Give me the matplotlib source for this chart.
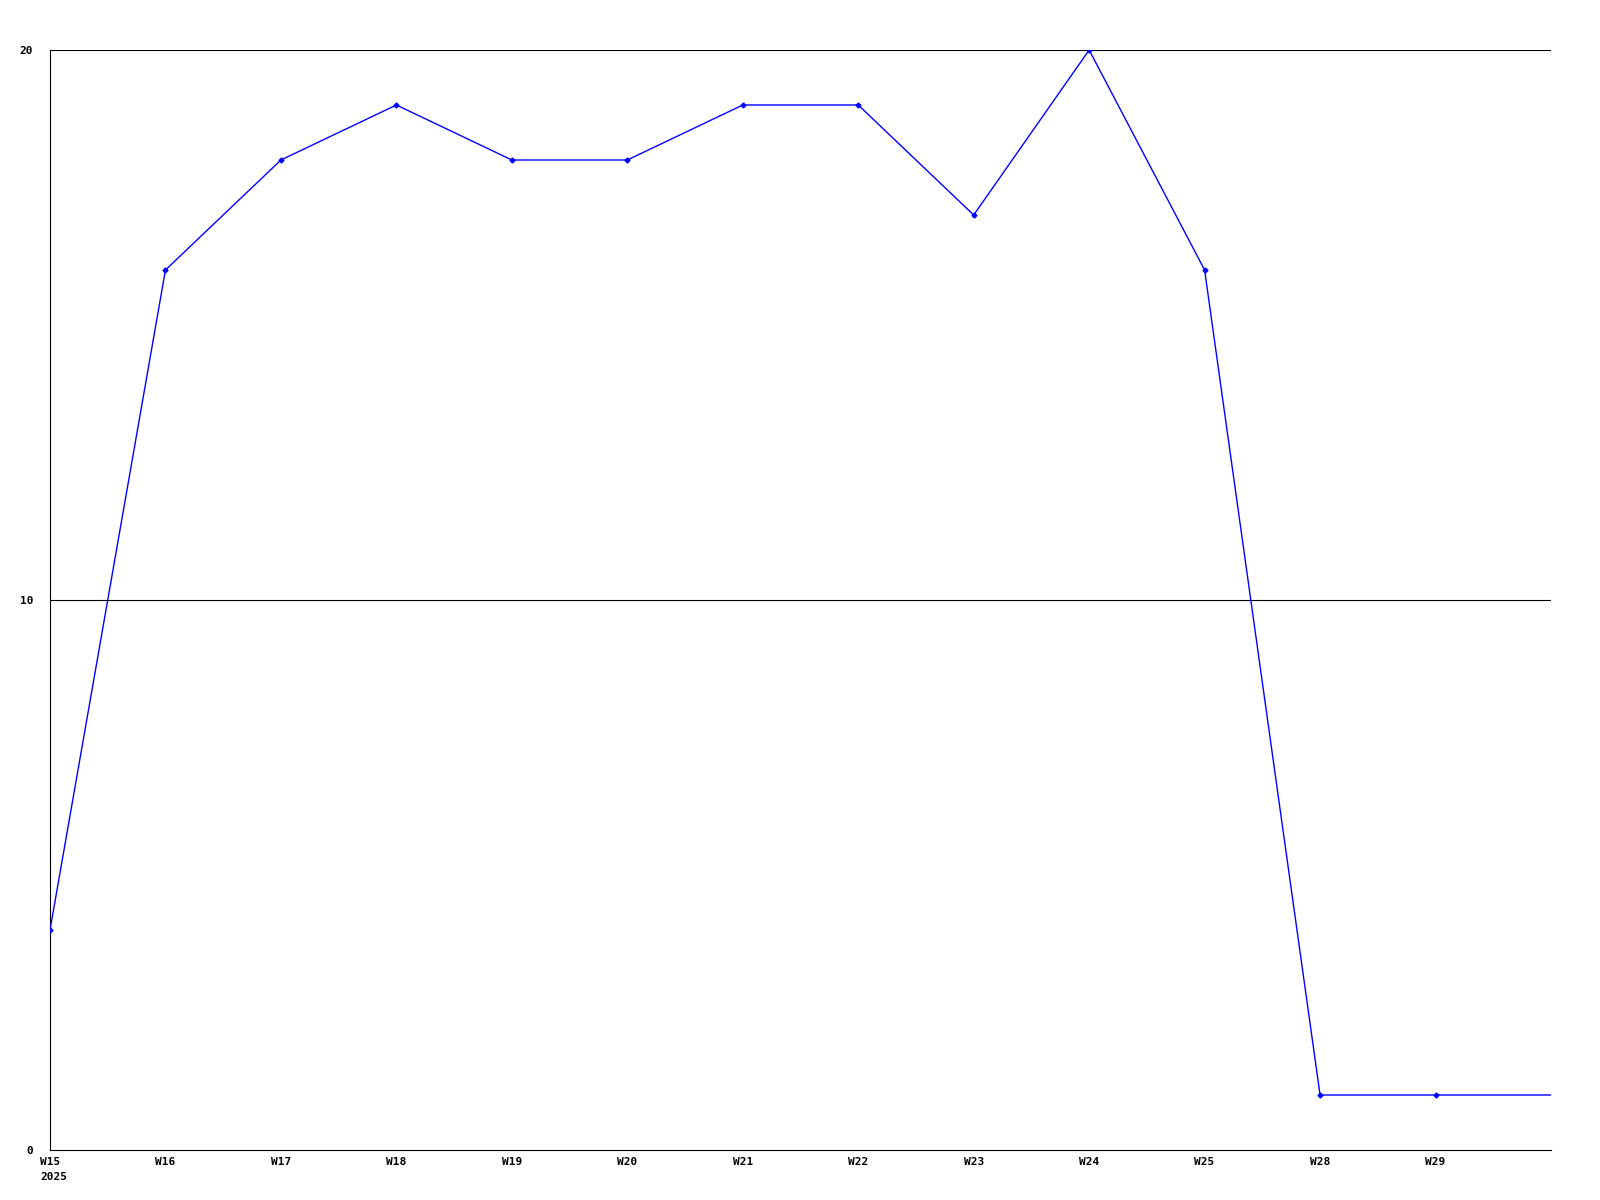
import matplotlib
matplotlib.use("Agg")
import matplotlib.pyplot as plt
import matplotlib.transforms as mtransforms

weeks = ["W15", "W16", "W17", "W18", "W19", "W20", "W21",
         "W22", "W23", "W24", "W25", "W28", "W29", ""]
values = [4, 16, 18, 19, 18, 18, 19, 19, 17, 20, 16, 1, 1, 1]
year_label = "2025"
y_ticks = [0, 10, 20]

plt.rcParams["font.family"] = ["DejaVu Sans Mono"]

fig = plt.figure(figsize=(16, 12), dpi=100)
ax = fig.add_axes([50 / 1600, 50 / 1200, 1501 / 1600, 1100 / 1200])

x = list(range(len(values)))
# last point only carries the line to the edge, no marker there
ax.plot(x, values, color="#0000ff", linewidth=1.0, marker="D",
        markersize=2.5, markevery=list(range(len(values) - 1)), zorder=3)

ax.set_xlim(0, len(values) - 1)
ax.set_ylim(0, 20)

ax.set_xticks(x[:-1])
ax.set_xticklabels(weeks[:-1], fontsize=8, fontweight="bold")
ax.set_yticks(y_ticks)
ax.set_yticklabels([str(v) for v in y_ticks], fontsize=8, fontweight="bold")
ax.tick_params(axis="x", length=0, pad=5)
ax.tick_params(axis="y", length=0, pad=12)

for v in y_ticks[1:]:
    ax.axhline(v, color="black", linewidth=0.8, zorder=1)

for side in ["top", "right"]:
    ax.spines[side].set_visible(False)
for side in ["left", "bottom"]:
    ax.spines[side].set_color("black")
    ax.spines[side].set_linewidth(0.8)

# year under the first week label
trans = mtransforms.blended_transform_factory(ax.transData, ax.transAxes)
offset = mtransforms.ScaledTranslation(-10 / 100, -22 / 100, fig.dpi_scale_trans)
ax.text(0, 0, year_label, transform=trans + offset,
        fontsize=8, fontweight="bold", ha="left", va="top")

fig.savefig("out.png", dpi=100, facecolor="white")
plt.close(fig)
